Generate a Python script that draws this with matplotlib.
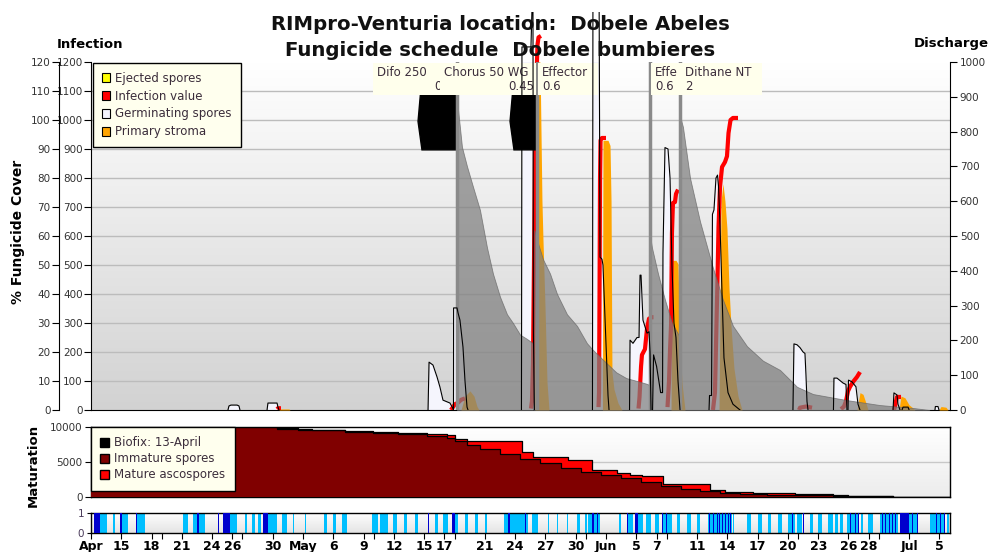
import numpy as np
import matplotlib
matplotlib.use('Agg')
import matplotlib.pyplot as plt
from matplotlib.colors import LinearSegmentedColormap
from matplotlib.patches import Patch, Rectangle, Polygon
from matplotlib.transforms import Bbox, TransformedBbox

plt.rcParams['font.family'] = ['DejaVu Sans']

# x axis: days counted from 12 April
XMAX = 85.05
tick_days = [0, 3, 6, 9, 12, 14, 18, 21, 24, 27, 30, 33, 35, 39, 42, 45, 48,
             51, 54, 56, 60, 63, 66, 69, 72, 75, 77, 81, 84]
tick_labels = ['Apr', '15', '18', '21', '24', '26', '30', 'May', '6', '9', '12',
               '15', '17', '21', '24', '27', '30', 'Jun', '5', '7', '11', '14',
               '17', '20', '23', '26', '28', 'Jul', '5']
minor_days = [7, 15, 28, 36, 49, 57, 70, 78]

# fungicide cover (%) after each spray
cover_days = [
    [36.24, 36.3, 36.73, 37.23, 37.82, 38.51, 39.21, 39.80, 40.50, 41.19, 41.78, 42.48, 43.17, 43.76],
    [43.86, 43.9, 44.16, 44.75, 45.45, 46.14, 47.13, 48.12, 49.11, 49.70, 51.09, 52.0, 53.0, 54.06, 55.05, 55.35],
    [55.4, 55.45, 55.54, 56.14, 56.83, 57.52, 58.32],
    [58.38, 58.42, 58.61, 59.31, 60.30, 61.58, 62.57, 63.56, 64.95, 66.53, 68.22, 69.90, 71.49, 74.85, 78.12, 81.39, 83.0],
]
cover_pct = [
    [0, 105, 90.7, 84, 77, 69, 56, 47, 39, 33, 30, 26, 24.5, 23],
    [0, 62, 58.6, 52, 47, 40, 33, 29, 23, 20.7, 16, 13, 11, 10, 9, 8.5],
    [0, 58, 56, 47, 38, 30, 25],
    [0, 100, 97.6, 80, 65, 49, 38, 29, 22, 17, 13.8, 8, 5.5, 3.4, 1.7, 0.7, 0],
]

# germinating spores (infection scale)
germ_days = [
    [13.56, 13.66, 13.86, 14.46, 14.65, 14.75],
    [17.43, 17.52, 18.42, 18.51, 18.61],
    [33.37, 33.47, 33.86, 34.26, 34.55, 34.85, 35.54, 35.84, 35.89],
    [35.89, 35.9, 36.24, 36.34, 36.53, 36.83, 37.03, 37.23, 37.33],
    [42.62, 42.67, 43.56, 43.66, 43.76, 43.8, 43.9],
    [49.65, 49.70, 50.30, 50.40, 50.59, 50.69, 51.09, 51.19, 51.29],
    [53.32, 53.37, 53.66, 54.06, 54.26, 54.36, 54.46, 54.65, 55.05, 55.25, 55.35, 55.45],
    [55.6, 55.7, 56.0, 56.4, 56.59, 56.63, 56.83, 57.13, 57.33, 57.52, 57.72, 57.92, 58.12, 58.32],
    [61.19, 61.24, 61.44, 61.53, 61.68, 61.88, 62.03, 62.13, 62.28, 62.48, 62.67, 63.07, 63.56, 64.26],
    [69.50, 69.60, 69.90, 70.20, 70.50, 70.69, 70.79, 70.89, 70.99],
    [73.51, 73.56, 73.86, 74.46, 74.75, 74.85],
    [74.95, 75.00, 75.35, 75.74, 75.94, 76.14],
    [79.41, 79.50, 79.80, 79.90, 80.10],
    [80.3, 80.4, 80.9, 81.0],
    [83.56, 83.6, 83.86, 83.96],
]
germ_vals = [
    [0, 14, 17, 17, 14, 0],
    [0, 24, 24, 10, 0],
    [0, 165, 155, 114, 79, 34, 24, 5, 0],
    [0, 352, 352, 335, 310, 217, 100, 10, 0],
    [0, 1252, 1252, 1380, 1380, 276, 0],
    [0, 1500, 1500, 527, 520, 500, 138, 50, 0],
    [0, 241, 230, 250, 250, 465, 465, 310, 265, 270, 200, 0],
    [0, 190, 150, 60, 60, 540, 905, 900, 800, 500, 300, 250, 100, 0],
    [0, 50, 50, 675, 690, 800, 810, 770, 640, 400, 180, 60, 20, 0],
    [0, 228, 225, 215, 200, 195, 120, 30, 0],
    [0, 110, 110, 93, 88, 0],
    [0, 103, 97, 80, 20, 0],
    [0, 59, 52, 20, 0],
    [0, 10, 10, 0],
    [0, 12, 12, 0],
]

# primary stroma (discharge scale)
stroma_days = [
    [18.61, 18.7, 19.6, 19.7],
    [36.63, 37.03, 37.52, 37.92, 38.22, 38.42],
    [43.96, 44.01, 44.46, 44.65, 44.75, 44.95, 45.15, 45.35],
    [50.64, 50.69, 51.19, 51.39, 51.49, 51.58, 51.78, 52.18, 52.57],
    [57.43, 57.52, 57.92, 58.12, 58.22, 58.32, 58.51, 58.81],
    [62.18, 62.38, 62.57, 62.77, 62.97, 63.17, 63.37, 63.66, 64.06, 64.46],
    [75.84, 76.14, 76.44, 76.73, 76.93],
    [80.00, 80.20, 80.59, 80.99, 81.29, 81.58],
    [83.96, 84.16, 84.65, 84.85],
]
stroma_vals = [
    [0, 3, 3, 0],
    [0, 40, 55, 40, 10, 0],
    [0, 1000, 1000, 600, 490, 300, 80, 0],
    [0, 775, 775, 760, 600, 110, 60, 20, 0],
    [0, 430, 430, 420, 300, 200, 80, 0],
    [0, 600, 650, 600, 520, 350, 240, 120, 40, 0],
    [0, 50, 45, 20, 0],
    [0, 40, 35, 15, 8, 0],
    [0, 10, 8, 0],
]

# infection value
infect_days = [
    [18.42, 18.51, 18.81],
    [35.64, 35.84, 36.04, 36.34, 36.63, 37.03],
    [43.56, 43.66, 43.76, 43.86, 43.96, 44.11, 44.21, 44.31, 44.55],
    [50.25, 50.30, 50.35, 50.40, 50.45, 50.59, 50.99],
    [54.21, 54.31, 54.46, 54.55, 54.85, 55.05, 55.25, 55.54, 55.69],
    [57.08, 57.23, 57.33, 57.43, 57.52, 57.62, 57.82, 57.92, 58.12],
    [61.58, 61.78, 61.93, 62.03, 62.13, 62.28, 62.48, 62.77, 62.97, 63.12, 63.32, 63.56, 64.06],
    [70.10, 70.20, 70.79, 71.39],
    [74.26, 74.55, 74.75, 74.95, 75.15, 75.45, 75.84, 76.14],
    [79.50, 79.60, 79.70, 79.80, 80.00, 80.20],
]
infect_vals = [
    [3, 6, 6],
    [0, 10, 20, 25, 35, 40],
    [5, 30, 160, 500, 900, 1150, 1260, 1285, 1290],
    [10, 60, 400, 800, 930, 938, 938],
    [5, 45, 150, 190, 210, 280, 315, 320, 320],
    [10, 100, 207, 290, 610, 714, 717, 745, 760],
    [0, 60, 300, 450, 630, 770, 838, 855, 875, 955, 1000, 1007, 1007],
    [0, 8, 12, 8],
    [3, 12, 30, 65, 80, 97, 114, 131],
    [0, 10, 30, 45, 45, 45],
]

# sprays
spray_days = [36.24, 44.16, 55.3, 58.3]
block_start = [32.38, 41.49]
block_end = [36.24, 44.06]
block_low, block_high = 89.7, 115
spray_names = ['Difo 250', 'Chorus 50 WG', 'Effector', 'Effector', 'Dithane NT']
spray_doses = ['0', '0.45', '0.6', '0.6', '2']
label_start = [27.9, 34.55, 44.26, 55.45, 58.4]
label_end = [34.95, 44.1, 50.2, 58.4, 66.4]

# ascospore maturation
total_days = [0, 18.4, 20.5, 21.9, 25.1, 27.9, 30.4, 33.3, 35.2, 36.0, 37.2, 42.7, 43.8,
              47.2, 49.6, 52.1, 53.4, 54.6, 56.6, 61.3, 62.8, 65.5, 66.9, 69.7, 73.5, 75.0, 79.4, XMAX]
total_vals = [10000, 9814, 9720, 9630, 9440, 9300, 9160, 8977, 8790, 8280, 7953, 6420, 5720,
              5350, 3860, 3488, 3163, 2930, 1860, 1070, 744, 605, 512, 419, 232, 93, 0, 0]
immature_days = [0, 18.4, 20.5, 21.9, 25.1, 27.9, 30.4, 33.3, 35.2, 36.0, 37.2, 38.5, 40.5,
                 42.5, 44.5, 46.5, 48.5, 50.5, 52.5, 54.5, 56.4, 58.4, 60.3, 62.3, 64.3,
                 66.9, 69.7, 73.5, 75.0, 79.4, XMAX]
immature_vals = [10000, 9670, 9580, 9530, 9300, 9116, 8977, 8651, 8400, 8047, 7500, 6900, 6186,
                 5488, 4790, 4093, 3628, 3163, 2698, 2093, 1535, 1163, 837, 605, 372,
                 326, 233, 140, 93, 0, 0]

# leaf wetness periods
wet_light = [(0.9, 1.6), (2.2, 2.4), (3.1, 3.7), (4.6, 5.3), (9.1, 9.6), (10.1, 10.5), (10.7, 11.3),
             (13.1, 14.5), (15.2, 15.4), (15.9, 16.2), (16.5, 16.8), (17.0, 18.4), (18.9, 19.4),
             (20.0, 20.1), (21.2, 21.3), (23.1, 23.4), (24.0, 24.3), (24.9, 25.3), (27.8, 28.4),
             (28.6, 29.4), (29.9, 30.3), (31.0, 31.3), (32.1, 32.4), (34.1, 34.4), (34.9, 35.3),
             (35.7, 36.3), (37.0, 37.3), (38.0, 38.3), (39.0, 39.2), (40.9, 43.3), (43.7, 44.3),
             (45.2, 45.35), (46.1, 46.2), (47.1, 47.2), (48.1, 48.4), (48.9, 49.1), (49.2, 50.4),
             (52.3, 52.5), (53.2, 53.7), (54.2, 54.7), (55.0, 55.4), (55.8, 56.2), (56.6, 57.5),
             (58.0, 58.3), (59.0, 59.4), (60.0, 60.3), (61.1, 63.5), (63.6, 63.7), (65.0, 65.3),
             (66.0, 66.4), (67.0, 67.3), (68.0, 68.4), (69.0, 69.7), (69.9, 70.4), (71.2, 71.5),
             (72.0, 72.4), (73.0, 73.5), (73.7, 74.0), (74.2, 74.5), (74.9, 75.9), (76.2, 76.4),
             (76.9, 77.4), (78.1, 79.9), (80.1, 81.8), (83.1, 84.6), (84.8, 85.0)]
wet_dark = [(0.3, 0.9), (2.9, 3.1), (4.45, 4.6), (10.5, 10.7), (12.55, 12.7), (13.1, 13.8),
            (17.0, 17.5), (33.35, 33.5), (35.7, 36.0), (41.3, 41.5), (42.95, 43.1), (49.6, 49.8),
            (50.1, 50.2), (53.05, 53.15), (53.9, 54.2), (56.5, 56.6), (56.9, 57.0), (61.2, 61.3),
            (61.6, 61.7), (62.0, 62.1), (62.2, 62.3), (62.5, 62.6), (62.8, 62.9), (63.1, 63.2),
            (63.3, 63.4), (69.4, 69.5), (70.5, 70.6), (75.1, 75.2), (75.6, 75.7), (75.9, 76.0),
            (78.3, 78.4), (78.6, 78.7), (79.0, 79.1), (79.3, 79.4), (79.6, 79.7), (80.1, 81.0),
            (81.3, 81.4), (81.8, 81.9), (83.7, 83.8), (84.1, 84.2), (84.5, 84.6)]

COVER_TO_INF = 10.0     # 120 % cover <-> 1200 infection
DISCH_TO_INF = 1.2      # 1000 discharge <-> 1200 infection
TXT = '#333333'
LBL = '#3b2d3b'

fig = plt.figure(figsize=(9.94, 5.52), dpi=100)
ax = fig.add_axes([91 / 994, 142 / 552, 859 / 994, 348 / 552])
ax_m = fig.add_axes([91 / 994, 55 / 552, 859 / 994, 70 / 552])
ax_w = fig.add_axes([91 / 994, 19 / 552, 859 / 994, 20 / 552])


def gradient(a, bottom, top):
    cm = LinearSegmentedColormap.from_list('g', [bottom, top])
    a.imshow(np.linspace(1, 0, 256).reshape(-1, 1), extent=(0, 1, 0, 1),
             transform=a.transAxes, aspect='auto', cmap=cm, zorder=0)


# ---------- main panel ----------
gradient(ax, '#d2d2d2', '#ffffff')
for v in range(100, 1200, 100):
    ax.axhline(v, color='#bcbcbc', lw=1, zorder=0.5)

above = TransformedBbox(Bbox([[0, 0], [1, 1.145]]), ax.transAxes)

for d, v in zip(germ_days, germ_vals):
    ax.fill_between(d, 0, v, color='#f5f5fd', lw=0, zorder=2)
for d, v in zip(stroma_days, stroma_vals):
    ax.fill_between(d, 0, np.array(v) * DISCH_TO_INF, color='#ffa500', lw=0, zorder=3)
for d, v in zip(infect_days, infect_vals):
    ln, = ax.plot(d, v, color='#ff0000', lw=3, solid_capstyle='butt', zorder=4)
    ln.set_clip_path(None)
    ln.set_clip_box(above)
for d, p in zip(cover_days, cover_pct):
    ax.fill_between(d, 0, np.array(p) * COVER_TO_INF, facecolor='#7f7f7f', alpha=0.72,
                    edgecolor='#666666', lw=0.6, zorder=5)

for s, e in zip(block_start, block_end):
    ax.add_patch(Polygon([(s + 0.39, block_high * COVER_TO_INF), (s, 99.5 * COVER_TO_INF),
                          (s + 0.39, block_low * COVER_TO_INF), (e, block_low * COVER_TO_INF),
                          (e, block_high * COVER_TO_INF)], closed=True, color='black', zorder=7))
for d in spray_days:
    ax.axvline(d, color='#8a8a8a', lw=2.5, zorder=7.5)

# spray labels: each box hides the tail of the one before it
name_texts = []
for i, (name, dose, s, e) in enumerate(zip(spray_names, spray_doses, label_start, label_end)):
    z = 8 + i * 0.1
    nxt = label_start[i + 1] if i + 1 < len(label_start) else e
    ax.add_patch(Rectangle((s, 1086), e - s, 111, facecolor='#ffffec', edgecolor='none', zorder=z))
    box = TransformedBbox(Bbox([[s, 1086], [nxt, 1197]]), ax.transData)
    t1 = ax.text(s + 0.4, 1165, name, fontsize=8.5, color=LBL, va='center', ha='left', zorder=z + 0.05)
    name_texts.append((t1, nxt))
    if i < 2:
        t2 = ax.text(e - 0.2, 1114, dose, fontsize=8.5, color=LBL, va='center', ha='right', zorder=z + 0.05)
    else:
        t2 = ax.text(s + 0.4, 1114, dose, fontsize=8.5, color=LBL, va='center', ha='left', zorder=z + 0.05)
    t2.set_clip_on(True)
    t2.set_clip_box(box)

for d, v in zip(germ_days, germ_vals):
    ln, = ax.plot(d, v, color='black', lw=0.8, zorder=10)
    ln.set_clip_path(None)
    ln.set_clip_box(above)

ax.set_xlim(0, XMAX)
ax.set_ylim(0, 1200)
ax.set_yticks(range(0, 1201, 100))
ax.tick_params(axis='y', labelsize=7.5, labelcolor=TXT, length=5, width=0.8, pad=1)
ax.tick_params(axis='x', bottom=False, labelbottom=False)
ax.spines['top'].set_visible(False)
ax.spines['right'].set_visible(False)

leg = ax.legend(handles=[Patch(facecolor='#ffff00', edgecolor='black', lw=0.8, label='Ejected spores'),
                         Patch(facecolor='#ff0000', edgecolor='black', lw=0.8, label='Infection value'),
                         Patch(facecolor='#f5f5fd', edgecolor='black', lw=0.8, label='Germinating spores'),
                         Patch(facecolor='#ffa500', edgecolor='black', lw=0.8, label='Primary stroma')],
                loc='upper left', bbox_to_anchor=(0.002, 0.998), borderaxespad=0, fontsize=8.5,
                fancybox=False, framealpha=1, facecolor='#ffffee', edgecolor='black', handlelength=0.75,
                handleheight=0.75, handletextpad=0.4, labelspacing=0.42, borderpad=0.75)
leg.set_zorder(20)
for t in leg.get_texts():
    t.set_color(LBL)

# % cover scale on the outer left
ax_p = ax.twinx()
ax_p.set_ylim(0, 120)
ax_p.yaxis.set_ticks_position('left')
ax_p.spines['left'].set_position(('outward', 23))
for side in ['top', 'right', 'bottom']:
    ax_p.spines[side].set_visible(False)
ax_p.set_yticks(range(0, 121, 10))
ax_p.tick_params(axis='y', labelsize=7.5, labelcolor=TXT, length=5, width=0.8, pad=1)

# discharge scale on the right
ax_r = ax.twinx()
ax_r.set_ylim(0, 1000)
for side in ['top', 'left', 'bottom']:
    ax_r.spines[side].set_visible(False)
ax_r.set_yticks(range(0, 1001, 100))
ax_r.tick_params(axis='y', labelsize=7.5, labelcolor=TXT, length=5, width=0.8, pad=2)

fig.text(0.503, 1 - 24 / 552, 'RIMpro-Venturia location:  Dobele Abeles', ha='center', va='center',
         fontsize=14.2, fontweight='bold', color='#111111')
fig.text(0.503, 1 - 50 / 552, 'Fungicide schedule  Dobele bumbieres', ha='center', va='center',
         fontsize=14.2, fontweight='bold', color='#111111')
fig.text(90 / 994, 1 - 44 / 552, 'Infection', ha='center', va='center', fontsize=9.5, fontweight='bold')
fig.text(951 / 994, 1 - 44 / 552, 'Discharge', ha='center', va='center', fontsize=9.5, fontweight='bold')
fig.text(18 / 994, 1 - 232 / 552, '% Fungicide Cover', ha='center', va='center', rotation=90,
         fontsize=10, fontweight='bold')

# ---------- maturation panel ----------
gradient(ax_m, '#ececec', '#ffffff')
ax_m.axhline(5000, color='#c8c8c8', lw=1, zorder=0.5)
ax_m.fill_between(total_days, 0, total_vals, step='post', color='#ff0000', lw=0, zorder=2)
ax_m.fill_between(immature_days, 0, immature_vals, step='post', color='#800000', lw=0, zorder=3)
ax_m.step(total_days, total_vals, where='post', color='black', lw=0.9, zorder=4)
ax_m.step(immature_days, immature_vals, where='post', color='black', lw=0.9, zorder=4)
ax_m.set_xlim(0, XMAX)
ax_m.set_ylim(0, 10000)
ax_m.set_yticks([0, 5000, 10000])
ax_m.tick_params(axis='y', labelsize=7.5, labelcolor=TXT, length=4, width=0.8, pad=2)
ax_m.tick_params(axis='x', bottom=False, labelbottom=False)
leg_m = ax_m.legend(handles=[Patch(facecolor='black', edgecolor='black', label='Biofix: 13-April'),
                             Patch(facecolor='#800000', edgecolor='black', label='Immature spores'),
                             Patch(facecolor='#ff0000', edgecolor='black', label='Mature ascospores')],
                    loc='upper left', bbox_to_anchor=(0.0, 1.0), borderaxespad=0, fontsize=8.5,
                    fancybox=False, framealpha=1, facecolor='#ffffee', edgecolor='black',
                    handlelength=0.75, handleheight=0.75, handletextpad=0.4, labelspacing=0.25,
                    borderpad=0.8)
leg_m.set_zorder(20)
for t in leg_m.get_texts():
    t.set_color(LBL)
fig.text(33 / 994, 1 - 465 / 552, 'Maturation', ha='center', va='center', rotation=90,
         fontsize=9.5, fontweight='bold')

# ---------- leaf wetness panel ----------
gradient(ax_w, '#e4e4e4', '#ffffff')
ax_w.bar([s for s, e in wet_light], 1, [e - s for s, e in wet_light], align='edge',
         color='#00bfff', lw=0, zorder=2)
ax_w.bar([s for s, e in wet_dark], 1, [e - s for s, e in wet_dark], align='edge',
         color='#0000cd', lw=0, zorder=3)
ax_w.set_xlim(0, XMAX)
ax_w.set_ylim(0, 1)
ax_w.set_yticks([0, 1])
ax_w.tick_params(axis='y', labelsize=7.5, labelcolor='#4a3a5a', length=3, width=0.8, pad=2)
ax_w.set_xticks(tick_days)
ax_w.set_xticklabels(tick_labels, fontsize=9, fontweight='bold')
ax_w.set_xticks(minor_days, minor=True)
ax_w.tick_params(axis='x', which='both', length=4, width=0.8, pad=1)
for a in (ax_m, ax_w):
    for sp in a.spines.values():
        sp.set_linewidth(1)

# product names that run into the next label box get cut short
fig.canvas.draw()
renderer = fig.canvas.get_renderer()
for t, nxt in name_texts:
    limit = ax.transData.transform((nxt, 0))[0]
    while len(t.get_text()) > 1 and t.get_window_extent(renderer).x1 > limit:
        t.set_text(t.get_text()[:-1])

fig.savefig('out.png', dpi=100)
